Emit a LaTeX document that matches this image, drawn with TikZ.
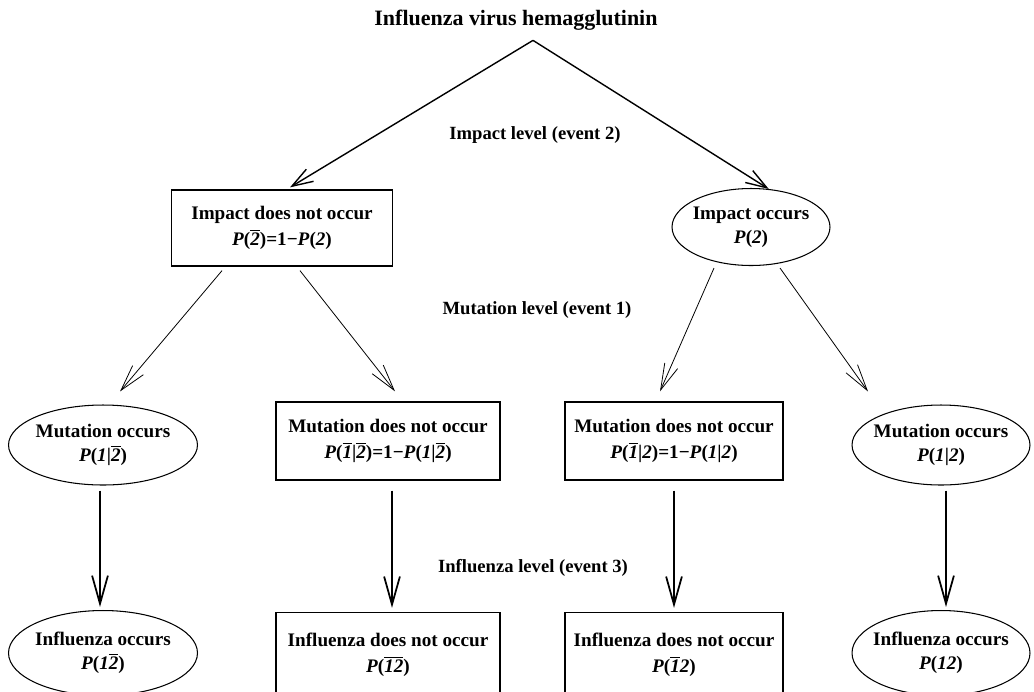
\documentclass[tikz,border=0pt]{standalone}
\usepackage{fontspec}
\setmainfont{Liberation Serif}
\usetikzlibrary{shapes.geometric, arrows.meta, positioning, calc}
\newcommand{\ovl}[1]{$\overline{\mbox{#1}}$}
\newcommand{\Pit}{\textit{P}}
\tikzset{
  outbox/.style={draw, line width=0.75pt, align=center, inner sep=2pt,
                 font=\fontsize{10.9}{14.5}\selectfont\bfseries},
  outell/.style={draw, ellipse, line width=0.6pt, align=center, inner sep=-4pt,
                 font=\fontsize{10.9}{13.5}\selectfont\bfseries},
  lvl/.style={font=\fontsize{10.6}{12}\selectfont\bfseries},
  toparr/.style={-{Straight Barb[length=12pt,width=8pt]}, line width=0.8pt},
  midarr/.style={-{Straight Barb[length=15pt,width=8pt]}, line width=0.45pt},
  downarr/.style={-{Straight Barb[length=16pt,width=9pt]}, line width=1pt},
}
\begin{document}
\begin{tikzpicture}[x=0.02cm, y=-0.02cm]
\useasboundingbox (0,0) rectangle (1034,691);
\clip (0,0) rectangle (1034,691);

\node[font=\fontsize{12.5}{14}\selectfont\bfseries] (title) at (516,20) {Influenza virus hemagglutinin};
\node[lvl] (lvlimp) at (535,135) {Impact level (event 2)};
\node[lvl] (lvlmut) at (537,310) {Mutation level (event 1)};
\node[lvl] (lvlinf) at (533,568) {Influenza level (event 3)};

% impact level
\node[outbox, minimum width=4.42cm, minimum height=1.52cm] (imp0) at (282,228)
  {Impact does not occur\\ \Pit(\ovl{\textit{2}})=1−\Pit(\textit{2})};
\node[outell, minimum width=3.16cm, minimum height=1.54cm] (imp1) at (751,227)
  {Impact occurs\\ \Pit(\textit{2})};

% mutation level
\node[outell, minimum width=3.78cm, minimum height=1.6cm] (mut10) at (103,445)
  {Mutation occurs\\ \Pit(\textit{1}|\ovl{\textit{2}})};
\node[outbox, minimum width=4.48cm, minimum height=1.56cm] (mut00) at (388,441)
  {Mutation does not occur\\ \Pit(\ovl{\textit{1}}|\ovl{\textit{2}})=1−\Pit(\textit{1}|\ovl{\textit{2}})};
\node[outbox, minimum width=4.36cm, minimum height=1.56cm] (mut01) at (674,441)
  {Mutation does not occur\\ \Pit(\ovl{\textit{1}}|\textit{2})=1−\Pit(\textit{1}|\textit{2})};
\node[outell, minimum width=3.56cm, minimum height=1.6cm] (mut11) at (941,445)
  {Mutation occurs\\ \Pit(\textit{1}|\textit{2})};

% influenza level
\node[outell, minimum width=3.78cm, minimum height=1.7cm] (inf10) at (103,653)
  {Influenza occurs\\ \Pit(\textit{1}\ovl{\textit{2}})};
\node[outbox, minimum width=4.48cm, minimum height=1.7cm] (inf00) at (388,655)
  {Influenza does not occur\\ \Pit(\ovl{\textit{12}})};
\node[outbox, minimum width=4.36cm, minimum height=1.7cm] (inf01) at (674,655)
  {Influenza does not occur\\ \Pit(\ovl{\textit{1}}\textit{2})};
\node[outell, minimum width=3.56cm, minimum height=1.7cm] (inf11) at (941,653)
  {Influenza occurs\\ \Pit(\textit{12})};

\draw[toparr] ($(title.south)+(17,4)$) -- ([xshift=0.16cm, yshift=0.04cm]imp0.north);
\draw[toparr] ($(title.south)+(17,4)$) -- (imp1.65);

\draw[midarr] ($(imp0.south)+(-60,4)$) -- ($(mut10.north)+(17,-13)$);
\draw[midarr] ($(imp0.south)+(18,4)$) -- ($(mut00.north)+(7,-10)$);
\draw[midarr] ($(imp1.south)+(-37,2)$) -- ($(mut01.north)+(-14,-10)$);
\draw[midarr] ($(imp1.south)+(29,2)$) -- ($(mut11.north)+(-73,-13)$);

\draw[downarr] ($(mut10.south)+(-3,5)$) -- ($(inf10.north)+(-3,-3)$);
\draw[downarr] ($(mut00.south)+(4,10)$) -- ($(inf00.north)+(4,-4)$);
\draw[downarr] ($(mut01.south)+(0,10)$) -- ($(inf01.north)+(0,-4)$);
\draw[downarr] ($(mut11.south)+(5,5)$) -- ($(inf11.north)+(5,-3)$);
\end{tikzpicture}
\end{document}
